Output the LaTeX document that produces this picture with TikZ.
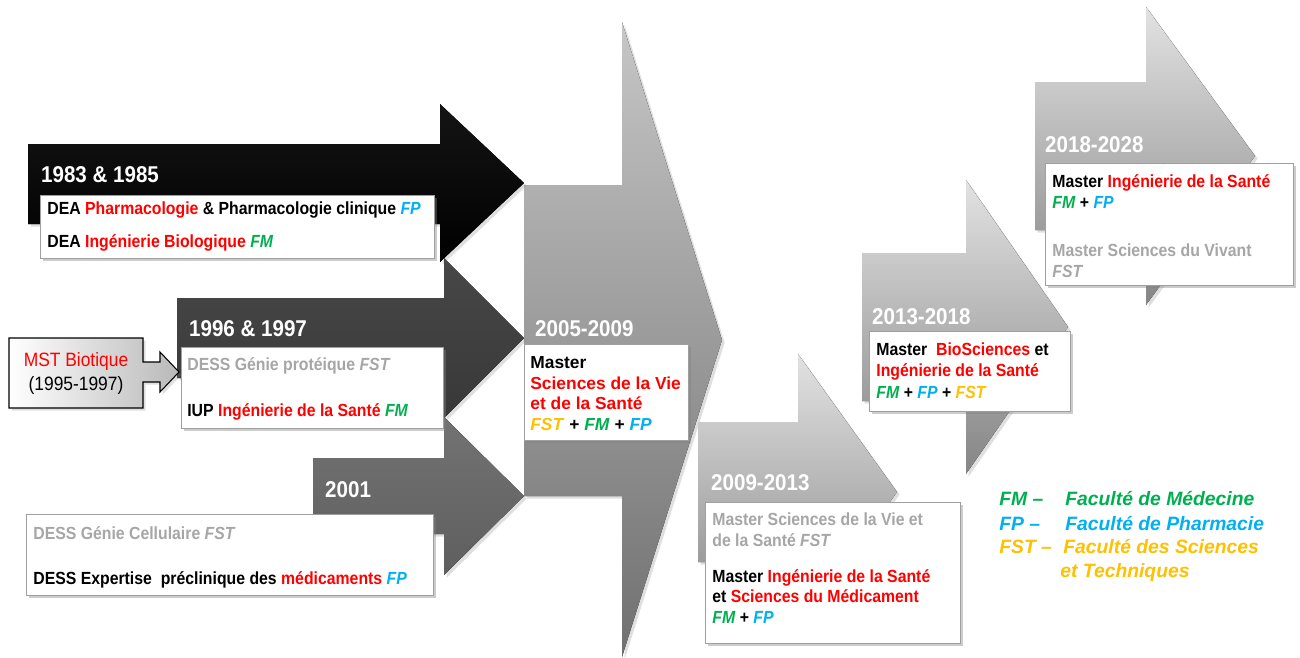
\documentclass[tikz,border=0pt]{standalone}
\usepackage{fontspec}
\setmainfont{Liberation Sans}
\newfontfamily\cond[FakeStretch=0.9]{Liberation Sans}
\usetikzlibrary{shadows}
\definecolor{fmgreen}{HTML}{00B050}
\definecolor{fpblue}{HTML}{00B0F0}
\definecolor{fstorange}{HTML}{FFC000}
\definecolor{txtgrey}{HTML}{A6A6A6}
\definecolor{bigtop}{HTML}{C6C6C6}
\definecolor{bigbot}{HTML}{707070}
\definecolor{lighttop}{HTML}{E2E2E2}
\definecolor{lightbot}{HTML}{858585}
\newcommand{\fm}{\textcolor{fmgreen}{\textit{FM}}}
\newcommand{\fp}{\textcolor{fpblue}{\textit{FP}}}
\newcommand{\fst}{\textcolor{fstorange}{\textit{FST}}}
\newcommand{\rd}[1]{\textcolor{red}{#1}}
\newcommand{\gry}{\color{txtgrey}}

\begin{document}
\begin{tikzpicture}[x=0.02cm,y=-0.02cm,
    lbl/.style={anchor=base west,text=white,font=\cond\fontsize{13}{15}\selectfont\bfseries},
    txt/.style={anchor=base west,inner sep=0pt,font=\cond\fontsize{10}{12}\selectfont\bfseries},
    wtxt/.style={anchor=base west,inner sep=0pt,font=\fontsize{9.9}{12}\selectfont\bfseries},
    leg/.style={anchor=base west,inner sep=0pt,font=\fontsize{11}{13}\selectfont\bfseries\itshape},
    box/.style={fill=white,draw=gray!75,line width=0.5pt,drop shadow={opacity=0.4,shadow xshift=1.5pt,shadow yshift=-1.5pt}},
    arr/.style={drop shadow={opacity=0.25,shadow xshift=1.5pt,shadow yshift=-1.5pt}}]

        \useasboundingbox (0,0) rectangle (1300,657);

        % 2005-2009
        \fill[arr,top color=bigtop,bottom color=bigbot] (524,185) -- (622,185) -- (622,22) -- (722,340) -- (622,657) -- (622,496) -- (524,496) -- cycle;

        % left arrows
        \fill[arr,top color=black!92,bottom color=black] (28,144) -- (440,144) -- (440,104) -- (524,183) -- (440,262) -- (440,224) -- (28,224) -- cycle;
        \fill[arr,top color=black!72,bottom color=black!78] (177,298) -- (444,298) -- (444,258) -- (524,338) -- (444,418) -- (444,378) -- (177,378) -- cycle;
        \fill[arr,top color=black!55,bottom color=black!63] (313,458) -- (444,458) -- (444,417) -- (524,496) -- (444,575) -- (444,534) -- (313,534) -- cycle;

        % right arrows
        \fill[arr,top color=lighttop,bottom color=lightbot] (698,422) -- (798,422) -- (798,354) -- (897,492) -- (798,630) -- (798,562) -- (698,562) -- cycle;
        \fill[arr,top color=lighttop,bottom color=lightbot] (862,253) -- (966,253) -- (966,180) -- (1068,327) -- (966,474) -- (966,401) -- (862,401) -- cycle;
        \fill[arr,top color=lighttop,bottom color=lightbot] (1035,82) -- (1146,82) -- (1146,7) -- (1255,156) -- (1146,305) -- (1146,230) -- (1035,230) -- cycle;

        % MST
        \draw[line width=0.6pt,arr,left color=white,right color=gray!55] (9,338) -- (143,338) -- (143,362) -- (160,362) -- (160,352) -- (179,372) -- (160,392) -- (160,382) -- (143,382) -- (143,408) -- (9,408) -- cycle;
        \node[anchor=base,text=red,font=\cond\fontsize{11}{13}\selectfont] (mst) at (76,366) {MST Biotique};
        \node[anchor=base,font=\cond\fontsize{11}{13}\selectfont] (mstyr) at (76,390) {(1995-1997)};

        % boxes
        \draw[box] (40,195) rectangle (434,258);
        \draw[box] (181,347) rectangle (443,428);
        \draw[box] (26,514) rectangle (433,595);
        \draw[box] (524,344) rectangle (688,440);
        \draw[box] (705,502) rectangle (960,643);
        \draw[box] (869,331) rectangle (1070,411);
        \draw[box] (1045,163) rectangle (1293,285);

        \node[lbl] (y83) at (35,182) {1983 \& 1985};
        \node[lbl] (y96) at (183,336) {1996 \& 1997};
        \node[lbl] (y01) at (319,497) {2001};
        \node[lbl] (y05) at (529,336) {2005-2009};
        \node[lbl] (y09) at (705,490) {2009-2013};
        \node[lbl] (y13) at (866,324) {2013-2018};
        \node[lbl] (y18) at (1039,152) {2018-2028};

        \node[txt] (a83) at (47,214) {DEA \rd{Pharmacologie} \& Pharmacologie clinique \fp};
        \node[txt] (b83) at (47,247) {DEA \rd{Ingénierie Biologique} \fm};

        \node[txt] (a96) at (187,370) {\gry DESS Génie protéique \textit{FST}};
        \node[txt] (b96) at (187,416) {IUP \rd{Ingénierie de la Santé} \fm};

        \node[txt] (a01) at (33,539) {\gry DESS Génie Cellulaire \textit{FST}};
        \node[txt] (b01) at (33,584) {DESS Expertise \ préclinique des \rd{médicaments} \fp};

        \node[wtxt] (a05) at (530,368) {Master};
        \node[wtxt] (b05) at (530,389) {\rd{Sciences de la Vie}};
        \node[wtxt] (c05) at (530,409) {\rd{et de la Santé}};
        \node[wtxt] (d05) at (530,430) {\fst{} + \fm{} + \fp};

        \node[txt] (a09) at (712,525) {\gry Master Sciences de la Vie et};
        \node[txt] (b09) at (712,546) {\gry de la Santé \textit{FST}};
        \node[txt] (c09) at (712,582) {Master \rd{Ingénierie de la Santé}};
        \node[txt] (d09) at (712,602) {et \rd{Sciences du Médicament}};
        \node[txt] (e09) at (712,623) {\fm{} + \fp};

        \node[txt] (a13) at (876,355) {Master \ \rd{BioSciences} et};
        \node[txt] (b13) at (876,376) {\rd{Ingénierie de la Santé}};
        \node[txt] (c13) at (876,398) {\fm{} + \fp{} + \fst};

        \node[txt] (a18) at (1052,187) {Master \rd{Ingénierie de la Santé}};
        \node[txt] (b18) at (1052,208) {\fm{} + \fp};
        \node[txt] (c18) at (1052,256) {\gry Master Sciences du Vivant};
        \node[txt] (d18) at (1052,277) {\gry\textit{FST}};

        % legend
        \node[leg,text=fmgreen] (kfm) at (999,505) {FM –};
        \node[leg,text=fmgreen] (vfm) at (1065,505) {Faculté de Médecine};
        \node[leg,text=fpblue] (kfp) at (999,530) {FP –};
        \node[leg,text=fpblue] (vfp) at (1065,530) {Faculté de Pharmacie};
        \node[leg,text=fstorange] (kfst) at (999,553) {FST –};
        \node[leg,text=fstorange] (vfst) at (1063,553) {Faculté des Sciences};
        \node[leg,text=fstorange] (vfst2) at (1060,577) {et Techniques};

    \end{tikzpicture}
\end{document}
